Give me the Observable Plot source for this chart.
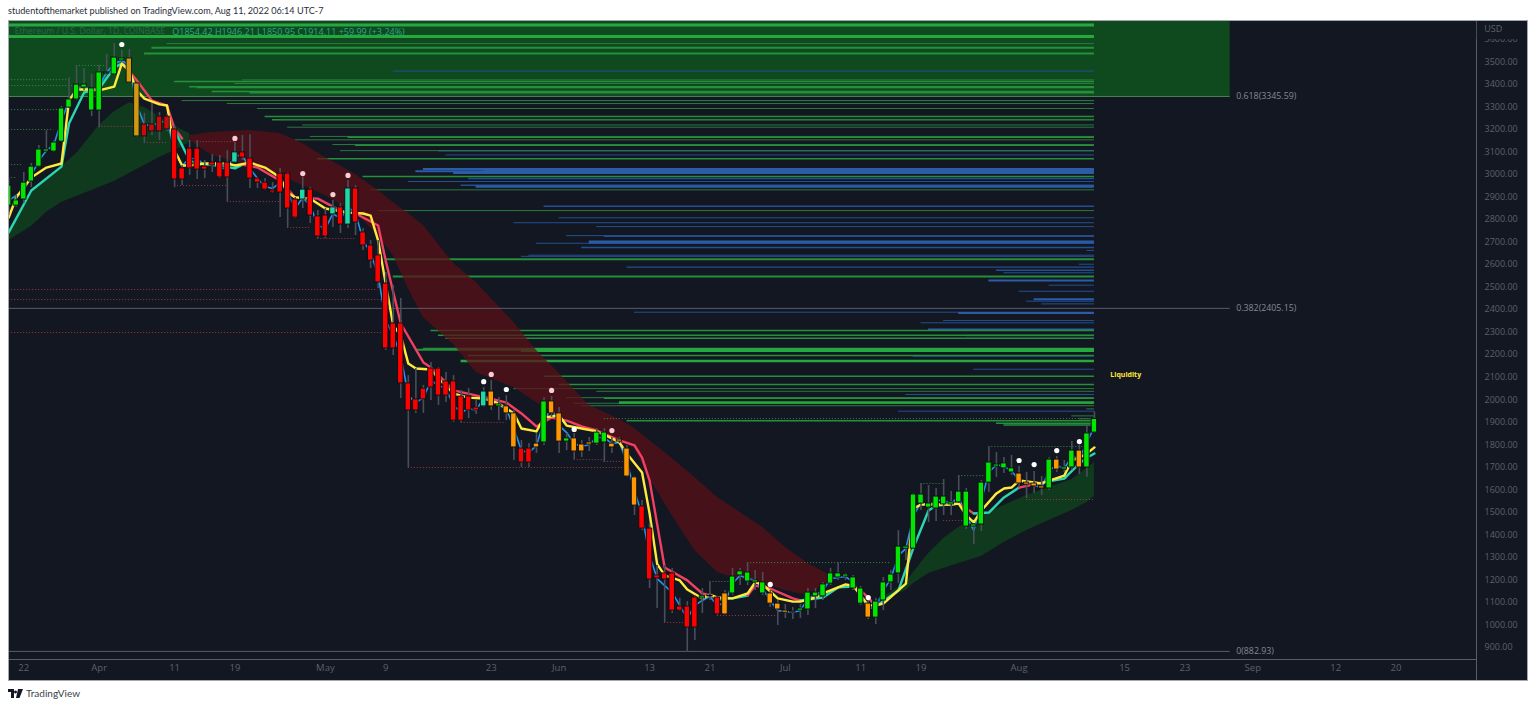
<!DOCTYPE html>
<html><head><meta charset="utf-8">
<script src="https://cdn.jsdelivr.net/npm/d3@7"></script>
<script src="https://cdn.jsdelivr.net/npm/@observablehq/plot@0.6"></script>
<style>
html,body{margin:0;padding:0;background:#fff;width:1536px;height:707px;overflow:hidden;font-family:Lato,sans-serif}
#title{position:absolute;left:8px;top:4px;font-size:9.1px;line-height:14px;color:#2a2e39;white-space:nowrap}
#chart{position:absolute;left:8px;top:20px;width:1520px;height:661px}
#foot{position:absolute;left:8px;top:686px;height:14px;display:flex;align-items:center;gap:3px;font-size:10px;color:#3a3e49}
</style></head><body>
<div id="title">studentofthemarket published on TradingView.com, Aug 11, 2022 06:14 UTC-7</div>
<div id="chart"></div>
<div id="foot"><svg width="15" height="9" viewBox="0 0 15 9"><path d="M0 0H6V9H3V3H0Z M7.5 1.5a1.5 1.5 0 1 0 .01 0Z M10 0H15L11.5 9H8Z" fill="#131722"/></svg><span>TradingView</span></div>
<script>
// daily candles, index 0 = 20 Mar 2022, index 144 = 11 Aug 2022
const candleTop=[2950,2884,2963,3034,3110,3110,3141,3292,3332,3398,
3398,3381,3452,3452,3518,3514,3514,3403,3221,3221,
3256,3256,3199,3026,3114,3114,3034,3052,3052,3052,
3097,3097,3070,2981,2963,2928,3003,3003,2888,2932,
2932,2813,2817,2853,2853,2937,2937,2742,2684,2640,
2515,2338,2338,2072,2001,2049,2138,2138,2081,2081,
2014,2014,1965,2036,2036,1979,1970,1939,1783,1783,
1805,1992,1992,1939,1828,1828,1801,1810,1854,1854,
1805,1823,1783,1655,1526,1428,1220,1229,1229,1082,
1082,1122,1127,1131,1122,1140,1215,1238,1233,1198,
1189,1140,1095,1064,1060,1073,1144,1144,1180,1229,
1229,1224,1211,1162,1095,1104,1189,1224,1348,1348,
1579,1579,1539,1570,1570,1544,1592,1592,1446,1632,
1721,1712,1717,1695,1672,1632,1628,1615,1734,1734,
1699,1774,1774,1850,1914];
const candleBottom=[2861,2861,2888,2968,3034,3101,3101,3145,3296,3332,
3385,3283,3283,3447,3443,3505,3407,3168,3168,3190,
3190,3199,2977,2977,3026,3021,3021,3039,2986,2986,
3052,3074,2981,2963,2932,2919,2919,2848,2808,2888,
2817,2724,2724,2822,2777,2777,2786,2684,2617,2520,
2227,2227,2072,1952,1952,2001,2054,2018,2018,1907,
1907,1952,1952,1970,1970,1970,1939,1788,1721,1721,
1788,1810,1939,1814,1814,1770,1770,1801,1805,1810,
1788,1814,1659,1530,1428,1202,1207,1202,1064,1064,
989,989,1118,1127,1047,1047,1140,1220,1193,1189,
1140,1095,1069,1055,1055,1064,1069,1127,1127,1184,
1211,1215,1162,1095,1033,1033,1109,1189,1229,1339,
1339,1539,1521,1517,1535,1535,1544,1437,1437,1446,
1632,1703,1695,1677,1628,1623,1615,1606,1606,1690,
1690,1699,1699,1699,1854];
const candleHigh=[2981,2906,3008,3048,3128,3194,3150,3301,3429,3483,
3469,3443,3483,3531,3580,3549,3554,3407,3270,3314,
3274,3265,3216,3039,3150,3150,3061,3088,3083,3105,
3141,3172,3176,2986,2981,2963,3026,3008,2897,2986,
2941,2839,2848,2884,2870,2972,2950,2759,2706,2706,
2564,2506,2449,2107,2138,2063,2165,2143,2120,2107,
2041,2049,1996,2054,2085,2009,2018,1952,1819,1805,
1850,2009,2014,1965,1850,1850,1819,1832,1872,1872,
1832,1832,1797,1659,1553,1450,1264,1264,1251,1118,
1104,1131,1162,1189,1127,1153,1251,1251,1277,1242,
1233,1153,1109,1091,1078,1091,1162,1162,1189,1251,
1277,1229,1220,1171,1109,1118,1211,1242,1419,1352,
1584,1628,1619,1606,1646,1592,1663,1606,1450,1641,
1788,1765,1743,1752,1703,1677,1681,1659,1743,1748,
1730,1814,1797,1885,1946];
const candleLow=[2817,2853,2870,2941,3030,3097,3097,3141,3292,3327,
3372,3256,3207,3438,3438,3500,3403,3163,3136,3172,
3150,3190,2941,2950,2995,2977,2981,3008,2981,2879,
3048,3061,2937,2937,2928,2915,2808,2764,2804,2848,
2782,2715,2715,2764,2737,2759,2728,2662,2582,2493,
2218,2196,2005,1699,1939,1939,1996,1974,1987,1899,
1899,1916,1934,1965,1952,1907,1907,1730,1699,1699,
1761,1797,1921,1761,1774,1734,1743,1770,1797,1721,
1761,1805,1655,1486,1419,1162,1073,1011,1051,1060,
878,931,1051,1109,1042,1042,1131,1175,1175,1153,
1131,1078,998,1029,1024,1029,1042,1073,1109,1175,
1198,1198,1153,1087,1024,1002,1064,1153,1184,1286,
1335,1508,1455,1459,1486,1486,1539,1424,1357,1415,
1588,1655,1672,1663,1610,1561,1584,1575,1597,1677,
1677,1686,1668,1655,1850];
const candleClass=("GGGGGGGGGGGGGGGG"+"YY"+"DDDD"+"RRRRRRRR"+"T"+"RRRRRRRR"+"T"+"RRR"+"T"+"R"+"T"+
"RRRRRRRRRRRRRRRRR"+"T"+"O"+"G"+"OO"+"RR"+"O"+"G"+"OO"+"G"+"OOO"+"GG"+"OOOO"+"RRRRRRRR"+"GG"+"R"+"O"+
"GGGGG"+"OOOO"+"GGGGGGGGG"+"O"+"GGGGGGGGGGGGGGGGGGG"+"OOOO"+"G"+"O"+"GG"+"O"+"GG").split("");
const classColor={G:"#00e600",R:"#ff0000",O:"#ff9800",T:"#1fd8a8",Y:"#cf9a10",D:"#c80c0c"};

const fastLine=[2884,2906,2928,2995,3061,3105,3132,3239,3327,3381,3394,3363,3394,3452,3491,3505,3483,3305,3221,3216,3230,3239,3105,3039,3070,3070,3039,3048,3026,3026,3083,3083,3026,2981,2946,2937,2963,2919,2848,2897,2861,2773,2759,2826,2804,2853,2830,2706,2653,2551,2351,2285,2196,2018,1987,2009,2085,2063,2049,1974,1943,1961,1952,2009,2014,1974,1961,1872,1774,1765,1797,1907,1965,1885,1854,1805,1792,1801,1832,1832,1805,1810,1721,1597,1486,1308,1206,1175,1144,1087,1029,1087,1109,1127,1087,1100,1184,1220,1206,1198,1162,1109,1064,1060,1056,1064,1118,1135,1153,1206,1211,1215,1189,1131,1073,1078,1153,1206,1308,1340,1486,1544,1530,1553,1553,1539,1570,1486,1419,1553,1677,1712,1703,1686,1641,1628,1619,1610,1686,1708,1695,1748,1739,1810,1881];

const midIndex=[0,1,3,5,7,8,9,11,12,14,15,16,17,18,20,21,22,23,24,26,29,30,32,34,36,37,38,40,42,45,47,48,49,50,51,52,53,54,56,57,59,61,63,65,67,68,70,71,73,74,76,78,80,81,82,84,85,86,87,89,90,92,93,94,96,98,99,100,102,104,105,107,108,110,111,112,113,114,115,116,119,120,121,125,126,127,128,129,131,132,133,134,137,138,140,141,142,143,144];
const midLine=[2808,2897,2986,3030,3048,3327,3376,3376,3372,3389,3491,3460,3372,3336,3310,3305,3105,3039,3039,3048,3048,3039,3052,3030,2986,2919,2897,2892,2848,2830,2826,2817,2706,2515,2329,2285,2160,2138,2134,2094,2027,2009,2005,1983,1939,1872,1859,1921,1930,1885,1872,1859,1828,1810,1760,1677,1495,1271,1220,1198,1158,1118,1135,1122,1118,1140,1189,1180,1118,1104,1104,1122,1140,1167,1180,1175,1131,1087,1087,1095,1184,1517,1535,1535,1539,1486,1455,1508,1584,1606,1610,1641,1628,1641,1663,1730,1743,1761,1788];

const slowRun=[
 ["up",[[0,2742],[3,2928],[7,3034],[8,3225],[10,3363],[11,3372],[12,3381],[14,3474],[15,3491],[16,3470]]],
 ["down",[[15,3491],[16,3456],[17,3416],[19,3327],[21,3305],[22,3203],[23,3159]]],
 ["up",[[22,3195],[24,3061],[25,3048],[28,3039],[30,3026],[31,3043]]],
 ["down",[[31,3043],[33,3030],[36,2972],[38,2897],[41,2892],[44,2839],[46,2826],[49,2773],[50,2617],[52,2338],[55,2165],[56,2143],[59,2041],[65,1996],[66,1987],[68,1939],[70,1881],[72,1921],[74,1907],[76,1881],[78,1863],[81,1819],[83,1797],[84,1743],[85,1641],[87,1255],[90,1198],[92,1140],[94,1122]]],
 ["up",[[94,1113],[96,1118],[98,1131]]],
 ["down",[[98,1131],[99,1175],[101,1162],[104,1118],[105,1109]]],
 ["up",[[105,1109],[108,1122],[110,1167],[112,1171]]],
 ["down",[[112,1171],[113,1153],[114,1122],[115,1082]]],
 ["up",[[115,1082],[118,1153],[120,1344],[122,1508],[123,1530],[126,1539]]],
 ["down",[[126,1539],[128,1495]]],
 ["up",[[128,1495],[130,1499],[132,1566],[134,1610]]],
 ["down",[[134,1610],[137,1632]]],
 ["up",[[137,1632],[140,1650],[142,1717],[143,1743],[144,1761]]]
];
const runColor={up:"#2bd6b2",down:"#f23f62"};

// [index, upper price, lower price]
const greenCloudA=[[0,2742,2706],[3,2928,2768],[5,2981,2830],[7,3034,2875],[9,3092,2901],[12,3216,2941],[14,3278,2968],[16,3318,3003],[18,3296,3039],[20,3256,3074],[22,3212,3105],[24,3181,3141]];
const redCloud=[[24,3172,3150],[27,3185,3083],[32,3194,3039],[36,3181,2995],[39,3136,2950],[42,3074,2906],[46,2999,2830],[49,2928,2728],[51,2875,2640],[53,2826,2493],[55,2773,2364],[59,2604,2245],[62,2520,2120],[67,2342,2054],[70,2218,1987],[73,2116,1925],[77,1974,1868],[81,1912,1819],[83,1872,1783],[85,1819,1650],[88,1739,1486],[91,1655,1331],[94,1566,1233],[96,1521,1211],[100,1433,1184],[103,1344,1153],[106,1273,1131],[109,1220,1198]];
const greenCloudB=[[115,1109,1100],[117,1144,1127],[119,1189,1153],[120,1233,1184],[122,1317,1229],[124,1384,1251],[126,1433,1273],[129,1486,1304],[132,1530,1366],[135,1575,1419],[138,1610,1464],[141,1646,1508],[143,1694,1544],[144,1721,1570]];

// liquidity levels: [first index, price, weight]; each runs on to the last candle
const greenLevels=[[0,3662,3],[0,3611,3],[21,3580,1],[19,3562,2],[18,3536,2],[31,3419,1],[22,3412,1.5],[30,3403,1],[24,3389,1.5],[25,3385,1.5],[27,3367,1.5],[32,3363,2],[23,3327,1],[29,3314,1],[33,3292,1],[34,3256,1.5],[35,3242,1.5],[36,3244,1],[37,3209,1],[39,3219,1],[40,3168,1],[45,3164,1.5],[38,3153,1],[43,3132,1],[46,3129,1.5],[44,3105,1],[41,3069,1.5],[47,2990,1.5],[48,2931,1],[49,2839,1],[50,2623,2],[51,2546,2],[56,2307,1.5],[57,2286,1.5],[58,2273,1.5],[54,2222,2],[55,2227,1.5],[68,2220,4],[61,2196,1.5],[60,2172,2.5],[71,2104,1.5],[73,2067,1.5],[67,2049,1],[78,2037,1],[74,2009,1],[79,2006,1.5],[75,1984,1],[81,1987,2.5],[76,1973,1],[82,1906,1.5],[143,1959,1],[141,1928,1],[142,1915,1],[131,1895,1.5],[132,1888,1.5]];
const blueLevels=[[51,3458,1],[52,3327,1],[57,3105,1.5],[58,3086,1],[55,3023,2],[54,3014,2],[63,3015,4],[59,3006,2],[61,2981,1.5],[53,2968,1],[60,2951,1.5],[62,2946,2.5],[71,2858,1.5],[73,2807,1],[67,2785,1],[78,2768,1],[74,2728,1],[79,2725,1.5],[77,2699,3.5],[70,2694,1],[76,2675,1.5],[69,2641,1],[68,2636,1],[82,2588,1.2],[143,2662,1],[142,2601,1],[131,2574,1.5],[132,2563,1],[130,2529,2],[138,2508,1],[134,2481,1],[136,2446,2],[135,2437,1],[137,2425,1],[83,2388,1],[126,2385,2],[124,2351,1],[121,2341,1],[122,2311,2],[127,2285,1.5],[120,2193,1],[128,2135,1],[119,2023,1],[118,1949,1]];
const lastCandle=144;

// dotted support / resistance: [from index, to index, price]
const greenDotted=[[0,8,3420],[0,9,3394],[0,7,3287],[0,6,3199],[0,2,3043],[0,1,2986],[9,13,3483],[79,144,1916],[93,96,1193],[98,117,1277],[121,124,1628],[126,130,1663],[130,143,1792]];
const redDotted=[[12,17,3212],[18,21,3141],[22,29,2950],[25,30,3145],[29,36,2879],[37,40,2764],[41,46,2715],[0,49,2489],[0,50,2444],[0,50,2298],[53,82,1699],[60,66,1899],[75,79,1734],[79,82,1726],[87,90,1011],[94,102,1042],[124,127,1464],[135,144,1557]];

const whiteDots=[[15,3576],[63,2080],[66,2045],[75,1868],[101,1180],[114,1122],[134,1730],[136,1712],[139,1774],[142,1814]];
const pinkDots=[[30,3159],[39,3003],[43,2910],[45,2995],[64,2112],[72,2041],[80,1863]];

const fibLevels=[{price:3345.59,label:"0.618(3345.59)",stroke:"#4e8a58"},{price:2405.15,label:"0.382(2405.15)",stroke:"#5a5d68"},{price:882.93,label:"0(882.93)",stroke:"#5a5d68"}];
const fibEnd=162;

const priceTicks=[900,1000,1100,1200,1300,1400,1500,1600,1700,1800,1900,2000,2100,2200,2300,2400,2500,2600,2700,2800,2900,3000,3100,3200,3300,3400,3500,3600];
const timeTickIndex=[2,12,22,30,42,50,64,73,85,93,103,113,121,134,148,156,165,176,184];
const timeTickLabel=["22","Apr","11","19","May","9","23","Jun","13","21","Jul","11","19","Aug","15","23","Sep","12","20"];

const xDomain=[0.106,194.67];
const yDomain=[847,3678];
const bg="#131722";
const axisInk="#5c606c";

const candles=candleTop.map((t,i)=>({i,top:t,bottom:candleBottom[i],high:candleHigh[i],low:candleLow[i],fill:classColor[candleClass[i]]}));
const asBand=a=>a.map(([i,u,l])=>({i,u,l}));
const asLevels=(a,kind)=>a.map(([i,p,w])=>({i,p,w,kind}));
const liquidity=[...asLevels(blueLevels,"b"),...asLevels(greenLevels,"g")];
const liqColor=d=>d.kind==="b"?(d.w>=2?"#2a5ca8":"#234f92"):(d.w>=2.5?"#25a83f":d.w>=1.5?"#25903a":"#2b7a3c");
const asPts=a=>a.map(([x,y])=>({x,y}));
const dots=(a)=>asPts(a);
const band=(data,fill,op)=>Plot.areaY(asBand(data),{x:"i",y1:"u",y2:"l",fill,fillOpacity:op,curve:"linear",clip:true});
const dotted=(a,stroke)=>Plot.ruleY(a.map(([a1,a2,p])=>({a1,a2,p})),{y:"p",x1:"a1",x2:"a2",stroke,strokeWidth:1,strokeDasharray:"1,2",clip:true});

const chart=Plot.plot({
  width:1520,height:661,marginLeft:1,marginRight:52,marginTop:1,marginBottom:22,
  style:{background:bg,outline:"1px solid #a3a6af",outlineOffset:"-1px",display:"block",maxWidth:"none",fontFamily:"'Open Sans',sans-serif"},
  x:{domain:xDomain,axis:null},
  y:{domain:yDomain,axis:null},
  marks:[
    Plot.rect([0],{x1:xDomain[0],x2:fibEnd,y1:3345.59,y2:yDomain[1],fill:"#0f4a1f"}),
    Plot.ruleY(liquidity,{y:"p",x1:"i",x2:()=>lastCandle,stroke:liqColor,strokeWidth:"w",clip:true}),
    band(greenCloudA,"#0f3a1d",1),
    band(greenCloudB,"#0f3a1d",1),
    band(redCloud,"#5a1018",0.75),
    ...fibLevels.map(f=>Plot.ruleY([f.price],{x1:xDomain[0],x2:fibEnd,stroke:f.stroke,strokeWidth:1})),
    Plot.text(fibLevels,{x:()=>fibEnd+0.8,y:"price",text:"label",textAnchor:"start",fill:"#858994",fontSize:8.8}),
    dotted(greenDotted,"#3a8a48"),
    dotted(redDotted,"#a23a44"),
    Plot.line(fastLine,{x:(d,i)=>i,y:d=>d,stroke:"#2196f3",strokeWidth:1.6,clip:true}),
    ...slowRun.map(([k,pts])=>Plot.line(asPts(pts),{x:"x",y:"y",stroke:runColor[k],strokeWidth:2.4,clip:true})),
    Plot.line(midIndex.map((x,k)=>({x,y:midLine[k]})),{x:"x",y:"y",stroke:"#ffeb3b",strokeWidth:2.4,clip:true}),
    Plot.ruleX(candles,{x:"i",y1:"low",y2:"high",stroke:"#4a4e5a",strokeWidth:1.6,clip:true}),
    Plot.rect(candles,{x1:d=>d.i-0.36,x2:d=>d.i+0.36,y1:"bottom",y2:"top",fill:"fill",stroke:"#0b0d12",strokeWidth:0.9,clip:true}),
    Plot.dot(dots(whiteDots),{x:"x",y:"y",r:2.6,fill:"#ffffff"}),
    Plot.dot(dots(pinkDots),{x:"x",y:"y",r:2.6,fill:"#f8ccd4"}),
    Plot.text(["Liquidity"],{x:()=>146.1,y:()=>2112,textAnchor:"start",fill:"#ffe93b",fontSize:7,fontWeight:700}),
    Plot.text(["Ethereum / U.S. Dollar, 1D, COINBASE"],{x:()=>0.8,y:()=>3633,textAnchor:"start",fill:"#2b6a50",fontSize:8.6}),
    Plot.text(["O1854.42 H1946.21 L1850.95 C1914.11 +59.99 (+3.24%)"],{x:()=>21.7,y:()=>3633,textAnchor:"start",fill:"#2aa68a",fontSize:9}),
    Plot.ruleY([847],{x1:xDomain[0],x2:xDomain[1],stroke:"#5a5d68",strokeWidth:1}),
    Plot.ruleX([xDomain[1]],{y1:749,y2:yDomain[1],stroke:"#5a5d68",strokeWidth:1}),
    Plot.axisY({anchor:"right",ticks:priceTicks,tickSize:0,tickPadding:8,label:null,fontSize:9,fill:axisInk,tickFormat:d=>d.toFixed(2)}),
    Plot.rect([0],{x1:xDomain[1]+0.1,x2:xDomain[1]+6.7,y1:3598,y2:3677,fill:bg}),
    Plot.text(["USD"],{x:()=>195.7,y:()=>3645,textAnchor:"start",fill:axisInk,fontSize:9}),
    Plot.axisX({anchor:"bottom",ticks:timeTickIndex,tickSize:0,tickPadding:5,label:null,fontSize:9.5,fill:axisInk,tickFormat:v=>timeTickLabel[timeTickIndex.indexOf(v)]})
  ]
});
document.getElementById("chart").append(chart);
</script></body></html>
